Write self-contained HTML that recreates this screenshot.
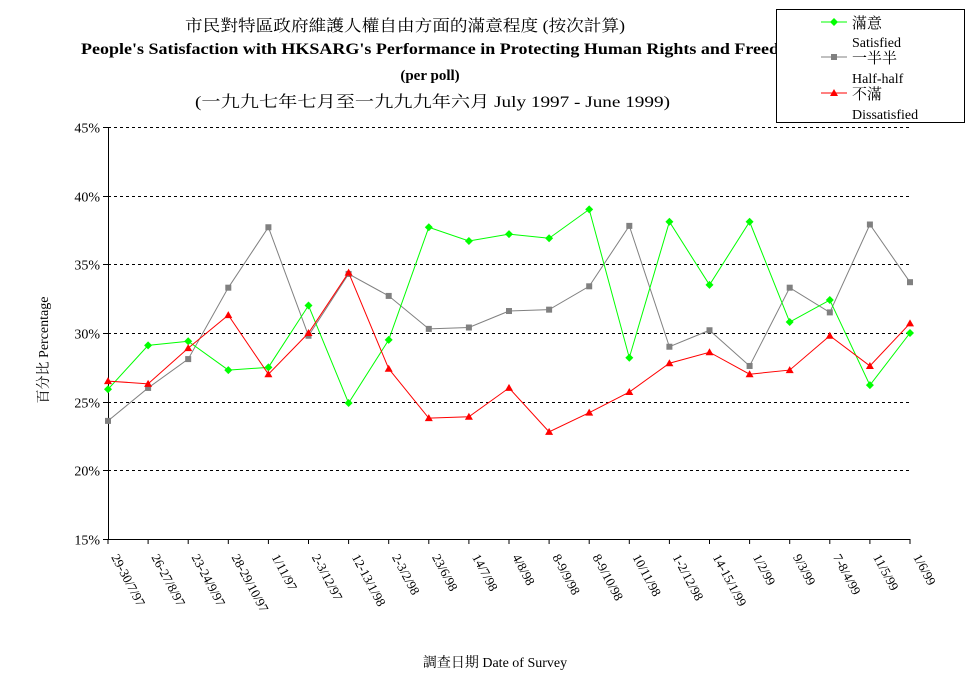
<!DOCTYPE html>
<html><head><meta charset="utf-8"><style>
body{margin:0;background:#fff;}
svg{display:block;font-family:"Liberation Serif","Noto Serif CJK SC","Noto Sans CJK TC",serif;}
</style></head><body>
<svg id="chart" width="977" height="681">
<g id="titles" fill="#000">
<text x="185" y="31" font-size="16" textLength="440" lengthAdjust="spacingAndGlyphs">市民對特區政府維護人權自由方面的滿意程度 (按次計算)</text>
<text x="81" y="54" font-size="16" font-weight="bold" textLength="722" lengthAdjust="spacingAndGlyphs">People's Satisfaction with HKSARG's Performance in Protecting Human Rights and Freedom</text>
<text x="430" y="80" font-size="15" font-weight="bold" text-anchor="middle">(per poll)</text>
<text x="195" y="107" font-size="16" textLength="475" lengthAdjust="spacingAndGlyphs">(一九九七年七月至一九九九年六月 July 1997 - June 1999)</text>
</g>
<g id="grid"></g>
<g id="axes"></g>
<g id="series"></g>
<text x="495" y="667" font-size="14" text-anchor="middle">調查日期 Date of Survey</text>
<text transform="translate(48,350) rotate(-90)" font-size="14" text-anchor="middle">百分比 Percentage</text>
<g>
<rect x="776.5" y="9.5" width="188" height="113" fill="#fff" stroke="#000"/>
<g><line x1="821" y1="22" x2="847" y2="22" stroke="#00ff00"/><path d="M834 18 L838 22 L834 26 L830 22Z" fill="#00ff00"/><text x="852" y="28" font-size="15">滿意</text><text x="852" y="47" font-size="14">Satisfied</text></g>
<g><line x1="821" y1="57" x2="847" y2="57" stroke="#808080"/><rect x="831" y="54" width="6" height="6" fill="#808080"/><text x="852" y="63" font-size="15">一半半</text><text x="852" y="83" font-size="14">Half-half</text></g>
<g><line x1="821" y1="93" x2="847" y2="93" stroke="#ff0000"/><path d="M834 89 L838 96 L830 96Z" fill="#ff0000"/><text x="852" y="99" font-size="15">不滿</text><text x="852" y="119" font-size="14">Dissatisfied</text></g>
</g>
</svg>
<script>
const categories=["29-30/7/97","26-27/8/97","23-24/9/97","28-29/10/97","1/11/97","2-3/12/97","12-13/1/98","2-3/2/98","23/6/98","14/7/98","4/8/98","8-9/9/98","8-9/10/98","10/11/98","1-2/12/98","14-15/1/99","1/2/99","9/3/99","7-8/4/99","11/5/99","1/6/99"];
const satisfied=[25.9,29.1,29.4,27.3,27.5,32.0,24.9,29.5,37.7,36.7,37.2,36.9,39.0,28.2,38.1,33.5,38.1,30.8,32.4,26.2,30.0];
const halfHalf=[23.6,26.0,28.1,33.3,37.7,29.8,34.3,32.7,30.3,30.4,31.6,31.7,33.4,37.8,29.0,30.2,27.6,33.3,31.5,37.9,33.7];
const dissatisfied=[26.5,26.3,28.9,31.3,27.0,30.0,34.4,27.4,23.8,23.9,26.0,22.8,24.2,25.7,27.8,28.6,27.0,27.3,29.8,27.6,30.7];
const yTicks=[15,20,25,30,35,40,45];
const NS="http://www.w3.org/2000/svg";
const X0=108,X1=910,Y0=539,Y1=127;
function xs(i){return X0+(X1-X0)*i/(categories.length-1);}
function ys(v){return Y0-(v-15)/30*(Y0-Y1);}
function mk(tag,attrs,parent){const e=document.createElementNS(NS,tag);for(const k in attrs)e.setAttribute(k,attrs[k]);parent.appendChild(e);return e;}
const grid=document.getElementById('grid'),axes=document.getElementById('axes'),series=document.getElementById('series');
yTicks.forEach(t=>{
 const y=Math.round(ys(t))+0.5;
 if(t>15){const l=mk('line',{x1:X0,x2:X1,y1:y,y2:y,stroke:'#000','stroke-dasharray':'3,3'},grid);
 
 }
 mk('line',{x1:X0-5,x2:X0,y1:y,y2:y,stroke:'#000'},axes);
 const tx=mk('text',{x:X0-8,y:y+5,'font-size':14,'text-anchor':'end'},axes);tx.textContent=t+'%';
 
 
});
const ya=mk('line',{x1:X0+0.5,x2:X0+0.5,y1:Y1,y2:Y0,stroke:'#000'},axes);


const xa=mk('line',{x1:X0,x2:X1,y1:Y0+0.5,y2:Y0+0.5,stroke:'#000'},axes);


categories.forEach((c,i)=>{
 const x=xs(i);
 mk('line',{x1:x,x2:x,y1:Y0,y2:Y0+5,stroke:'#000'},axes);
 const t=mk('text',{transform:`translate(${x+3},${Y0+18}) rotate(62)`,'font-size':13},axes);t.textContent=c;
 
 
});
function draw(vals,color,shape,name){
 const g=mk('g',{},series);
 
 
 mk('polyline',{points:vals.map((v,i)=>xs(i)+','+ys(v)).join(' '),fill:'none',stroke:color},g);
 vals.forEach((v,i)=>{
  const x=xs(i),y=ys(v);let m;
  if(shape==='d')m=mk('path',{d:`M${x} ${y-4}L${x+4} ${y}L${x} ${y+4}L${x-4} ${y}Z`,fill:color},g);
  else if(shape==='s')m=mk('rect',{x:x-3,y:y-3,width:6,height:6,fill:color},g);
  else m=mk('path',{d:`M${x} ${y-4}L${x+4} ${y+3}L${x-4} ${y+3}Z`,fill:color},g);
  
  
 });
}
draw(halfHalf,'#808080','s','half-half');
draw(satisfied,'#00ff00','d','satisfied');
draw(dissatisfied,'#ff0000','t','dissatisfied');
</script>
</body></html>
